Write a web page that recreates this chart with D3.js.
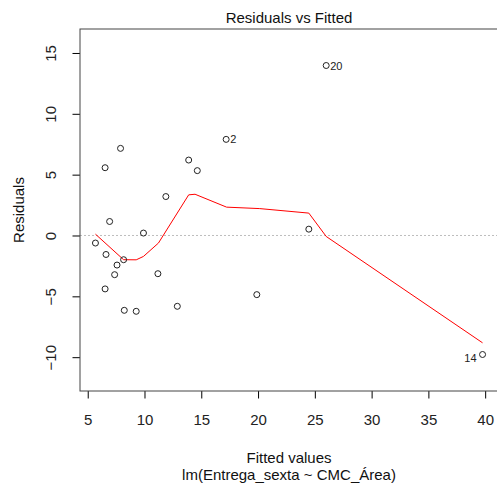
<!DOCTYPE html>
<html>
<head>
<meta charset="utf-8">
<script src="https://cdn.jsdelivr.net/npm/d3@7"></script>
<style>
  body { margin: 0; background: #fff; }
  svg { display: block; font-family: "Liberation Sans", Arial, sans-serif; }
</style>
</head>
<body>
<svg id="chart" width="497" height="486"></svg>
<script>
// values
const fitted = [7.89, 6.53, 6.93, 5.68, 6.61, 7.58, 8.16, 7.37, 6.53, 8.22, 9.27,
                9.91, 11.18, 11.88, 12.89, 13.89, 14.65, 17.19, 19.89, 26.0, 24.47, 39.77];
const residuals = [7.16, 5.57, 1.15, -0.62, -1.56, -2.43, -1.99, -3.22, -4.39, -6.15, -6.23,
                   0.20, -3.14, 3.20, -5.82, 6.20, 5.33, 7.90, -4.86, 13.97, 0.52, -9.78];
const ids = ["", "", "", "", "", "", "", "", "", "", "",
             "", "", "", "", "", "", "2", "", "20", "", "14"];

// red smoother
const smoothX = [5.68, 8.16, 9.27, 9.91, 11.23, 13.89, 14.45, 17.23, 20.15, 24.47, 26.0, 39.77];
const smoothY = [0.11, -1.99, -2.0, -1.72, -0.62, 3.34, 3.39, 2.33, 2.21, 1.84, -0.08, -8.82];

const xTicks = [5, 10, 15, 20, 25, 30, 35, 40];
const yTicks = [-10, -5, 0, 5, 10, 15];

const svg = d3.select("#chart");
const pl = 80, pt = 29, pr = 498, pb = 391;

const x = d3.scaleLinear().domain([4.32, 41.13]).range([pl, pr]);
const y = d3.scaleLinear().domain([-12.78, 16.97]).range([pb, pt]);

// zero reference line
svg.append("line")
    .attr("x1", pl).attr("x2", pr)
    .attr("y1", y(0)).attr("y2", y(0))
    .attr("stroke", "#bebebe")
    .attr("stroke-dasharray", "2,2");

// smoother
const pts = smoothX.map((v, i) => [v, smoothY[i]]);
svg.append("path")
    .attr("d", d3.line().x(d => x(d[0])).y(d => y(d[1]))(pts))
    .attr("fill", "none")
    .attr("stroke", "red")
    .attr("stroke-width", 1);

// points
svg.append("g").selectAll("circle")
    .data(fitted)
    .join("circle")
    .attr("cx", d => x(d))
    .attr("cy", (d, i) => y(residuals[i]))
    .attr("r", 3)
    .attr("fill", "none")
    .attr("stroke", "#222")
    .attr("stroke-width", 1);

// id labels, left of the point on the right half
svg.append("g").selectAll("text")
    .data(fitted.map((d, i) => ({ fx: d, r: residuals[i], id: ids[i] })).filter(d => d.id))
    .join("text")
    .attr("x", d => d.fx > 35 ? x(d.fx) - 6 : x(d.fx) + 4)
    .attr("y", d => d.fx > 35 ? y(d.r) + 8 : y(d.r) + 4)
    .attr("text-anchor", d => d.fx > 35 ? "end" : "start")
    .attr("font-size", 11)
    .attr("fill", "#222")
    .text(d => d.id);

// axes
const xAxis = svg.append("g")
    .attr("transform", `translate(0,${pb})`)
    .call(d3.axisBottom(x).tickValues(xTicks).tickSize(7.5).tickSizeOuter(0));
xAxis.select(".domain").remove();
xAxis.selectAll("text")
    .attr("y", 34).attr("dy", null)
    .attr("font-size", 15).attr("fill", "#222")
    .attr("font-family", null);

const yAxis = svg.append("g")
    .attr("transform", `translate(${pl},0)`)
    .call(d3.axisLeft(y).tickValues(yTicks).tickSize(7.5).tickSizeOuter(0));
yAxis.select(".domain").remove();
yAxis.selectAll("text")
    .attr("x", null).attr("dy", null)
    .attr("text-anchor", "middle")
    .attr("transform", "translate(-24,0) rotate(-90)")
    .attr("font-size", 15).attr("fill", "#222")
    .attr("font-family", null);

// frame
svg.append("rect")
    .attr("x", pl).attr("y", pt)
    .attr("width", pr - pl).attr("height", pb - pt)
    .attr("fill", "none")
    .attr("stroke", "#444");

// titles
svg.append("text")
    .attr("x", (pl + pr) / 2).attr("y", 23)
    .attr("text-anchor", "middle")
    .attr("font-size", 15).attr("fill", "#111")
    .text("Residuals vs Fitted");

svg.append("text")
    .attr("x", (pl + pr) / 2).attr("y", 463)
    .attr("text-anchor", "middle")
    .attr("font-size", 15).attr("fill", "#111")
    .text("Fitted values");

svg.append("text")
    .attr("x", (pl + pr) / 2).attr("y", 480)
    .attr("text-anchor", "middle")
    .attr("font-size", 15).attr("fill", "#111")
    .text("lm(Entrega_sexta ~ CMC_Área)");

svg.append("text")
    .attr("transform", `translate(24,${(pt + pb) / 2}) rotate(-90)`)
    .attr("text-anchor", "middle")
    .attr("font-size", 15).attr("fill", "#111")
    .text("Residuals");
</script>
</body>
</html>
